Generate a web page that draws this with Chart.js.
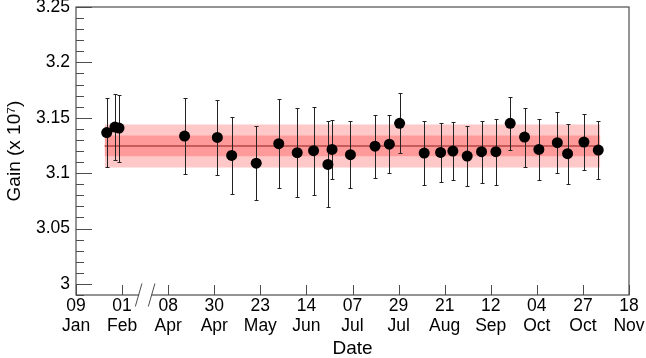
<!DOCTYPE html>
<html>
<head>
<meta charset="utf-8">
<script src="https://cdn.jsdelivr.net/npm/chart.js@4.4.1/dist/chart.umd.min.js"></script>
<style>
  html, body { margin: 0; padding: 0; background: #fff; }
  #wrap { width: 646px; height: 358px; }
</style>
</head>
<body>
<div id="wrap"><canvas id="gainChart"></canvas></div>
<script>
// x axis: days since 09 Jan, with the Feb-Apr stretch cut out
const tickLabels = ['09 Jan', '01 Feb', '08 Apr', '30 Apr', '23 May', '14 Jun', '07 Jul',
                    '29 Jul', '21 Aug', '12 Sep', '04 Oct', '27 Oct', '18 Nov'];
const tickStepDays = 22.5;
const axisStart = '01-09';
const gapAfter = '03-01';
const gapDays = 44;

const yTicks = [3, 3.05, 3.1, 3.15, 3.2, 3.25];

const dates = ['01-24', '01-28', '01-30', '04-16', '05-02', '05-09', '05-21', '06-01', '06-10', '06-18',
               '06-25', '06-27', '07-06', '07-18', '07-25', '07-30', '08-11', '08-19', '08-25', '09-01',
               '09-08', '09-15', '09-22', '09-29', '10-06', '10-15', '10-20', '10-28', '11-04'];
const gain = [3.1366, 3.1416, 3.1407, 3.1335, 3.1323, 3.1160, 3.1090, 3.1266, 3.1185, 3.1203,
              3.1079, 3.1214, 3.1167, 3.1244, 3.1262, 3.1450, 3.1181, 3.1187, 3.1199, 3.1154,
              3.1194, 3.1194, 3.1450, 3.1326, 3.1214, 3.1275, 3.1176, 3.1281, 3.1208];
const gainErr = [0.0314, 0.0299, 0.0302, 0.0339, 0.0337, 0.0344, 0.0334, 0.0404, 0.0403, 0.0398,
                 0.0389, 0.0270, 0.0300, 0.0284, 0.0259, 0.0271, 0.0289, 0.0270, 0.0264, 0.0274,
                 0.0279, 0.0298, 0.0239, 0.0266, 0.0272, 0.0276, 0.0270, 0.0255, 0.0264];

// mean with 1 and 2 sigma bands
const fitMean = 3.1246;
const sigma1 = 0.0094;
const sigma2 = 0.0194;
const bandDates = ['01-23', '11-05'];

function dayOfYear(md) {
    const [m, d] = md.split('-').map(Number);
    return (Date.UTC(2019, m - 1, d) - Date.UTC(2019, 0, 0)) / 86400000;
}
function toAxis(md) {
    const doy = dayOfYear(md);
    let v = doy - dayOfYear(axisStart);
    if (doy > dayOfYear(gapAfter)) v -= gapDays;
    return v;
}
function flatLine(val) {
    return bandDates.map(d => ({ x: toAxis(d), y: val }));
}

const errorBars = {
    id: 'errorBars',
    beforeDatasetDraw(chart, args) {
        if (args.index !== 0) return;
        const { ctx, scales: { x, y } } = chart;
        ctx.save();
        ctx.strokeStyle = '#222';
        ctx.lineWidth = 1;
        dates.forEach((d, i) => {
            const px = Math.round(x.getPixelForValue(toAxis(d))) + 0.5;
            const top = Math.round(y.getPixelForValue(gain[i] + gainErr[i])) + 0.5;
            const bot = Math.round(y.getPixelForValue(gain[i] - gainErr[i])) + 0.5;
            ctx.beginPath();
            ctx.moveTo(px, top); ctx.lineTo(px, bot);
            ctx.moveTo(px - 2, top); ctx.lineTo(px + 2, top);
            ctx.moveTo(px - 2, bot); ctx.lineTo(px + 2, bot);
            ctx.stroke();
        });
        ctx.restore();
    }
};

const frame = {
    id: 'frame',
    afterDraw(chart) {
        const { ctx, chartArea: a, scales: { x, y } } = chart;
        ctx.save();
        ctx.strokeStyle = '#4d4d4d';
        ctx.lineWidth = 1.2;
        ctx.strokeRect(a.left, a.top, a.right - a.left, a.bottom - a.top);

        // inward ticks
        ctx.lineWidth = 1;
        ctx.beginPath();
        for (let k = 0; k <= 26; k++) {
            const v = y.min + k * 0.01;
            const major = Math.abs(v / 0.05 - Math.round(v / 0.05)) < 1e-6;
            const py = Math.round(y.getPixelForValue(v)) + 0.5;
            ctx.moveTo(a.left, py);
            ctx.lineTo(a.left + (major ? 16 : 8), py);
        }
        tickLabels.forEach((_, i) => {
            const px = Math.round(x.getPixelForValue(i * tickStepDays)) + 0.5;
            ctx.moveTo(px, a.bottom);
            ctx.lineTo(px, a.bottom - 10);
        });
        ctx.stroke();

        // axis break marks
        const bx = x.getPixelForValue(1.5 * tickStepDays);
        ctx.fillStyle = '#fff';
        ctx.fillRect(bx - 6, a.bottom - 2, 12, 4);
        ctx.beginPath();
        [-6.5, 6.5].forEach(s => {
            ctx.moveTo(bx + s + 3.3, a.bottom - 11.5);
            ctx.lineTo(bx + s - 3.3, a.bottom + 11.5);
        });
        ctx.stroke();
        ctx.restore();
    }
};

Chart.defaults.font.family = "'Liberation Sans', Arial, sans-serif";
Chart.defaults.color = '#000';

const ctx = document.getElementById('gainChart');
new Chart(ctx, {
    type: 'line',
    data: {
        datasets: [{
            data: dates.map((d, i) => ({ x: toAxis(d), y: gain[i] })),
            showLine: false,
            pointRadius: 5.5,
            pointBackgroundColor: '#000',
            pointBorderWidth: 0,
            order: 0
        }, {
            data: flatLine(fitMean),
            borderColor: '#c85a5a',
            borderWidth: 2,
            pointRadius: 0,
            order: 1
        }, {
            data: flatLine(fitMean + sigma1),
            borderWidth: 0,
            pointRadius: 0,
            fill: '+1',
            backgroundColor: '#ff9a9a',
            order: 2
        }, {
            data: flatLine(fitMean - sigma1),
            borderWidth: 0,
            pointRadius: 0,
            order: 2
        }, {
            data: flatLine(fitMean + sigma2),
            borderWidth: 0,
            pointRadius: 0,
            fill: '+1',
            backgroundColor: '#ffc8c8',
            order: 3
        }, {
            data: flatLine(fitMean - sigma2),
            borderWidth: 0,
            pointRadius: 0,
            order: 3
        }]
    },
    options: {
        responsive: true,
        maintainAspectRatio: false,
        animation: false,
        layout: { padding: { top: 7, right: 17, left: 0, bottom: 0 } },
        plugins: {
            legend: { display: false },
            tooltip: { enabled: false }
        },
        scales: {
            x: {
                type: 'linear',
                min: 0,
                max: (tickLabels.length - 1) * tickStepDays,
                grid: { display: false, drawTicks: false },
                border: { display: false },
                afterBuildTicks: s => { s.ticks = tickLabels.map((_, i) => ({ value: i * tickStepDays })); },
                afterFit: s => { s.height = 63; s.paddingLeft = 0; s.paddingRight = 0; },
                ticks: {
                    autoSkip: false,
                    maxRotation: 0,
                    padding: 1,
                    font: { size: 17.5, lineHeight: 1.15 },
                    callback: (v, i) => tickLabels[i].split(' ')
                },
                title: {
                    display: true,
                    text: 'Date',
                    font: { size: 19, lineHeight: 1 },
                    padding: 0
                }
            },
            y: {
                min: 2.99,
                max: 3.25,
                grid: { display: false, drawTicks: false },
                border: { display: false },
                afterBuildTicks: s => { s.ticks = yTicks.map(v => ({ value: v })); },
                afterFit: s => { s.width = 76; s.paddingTop = 0; s.paddingBottom = 0; },
                ticks: {
                    padding: 6,
                    font: { size: 17.5 },
                    callback: v => String(v)
                },
                title: {
                    display: true,
                    text: 'Gain (x 10⁷)',
                    font: { size: 19, lineHeight: 1 },
                    padding: { top: 5 }
                }
            }
        }
    },
    plugins: [errorBars, frame]
});
</script>
</body>
</html>
